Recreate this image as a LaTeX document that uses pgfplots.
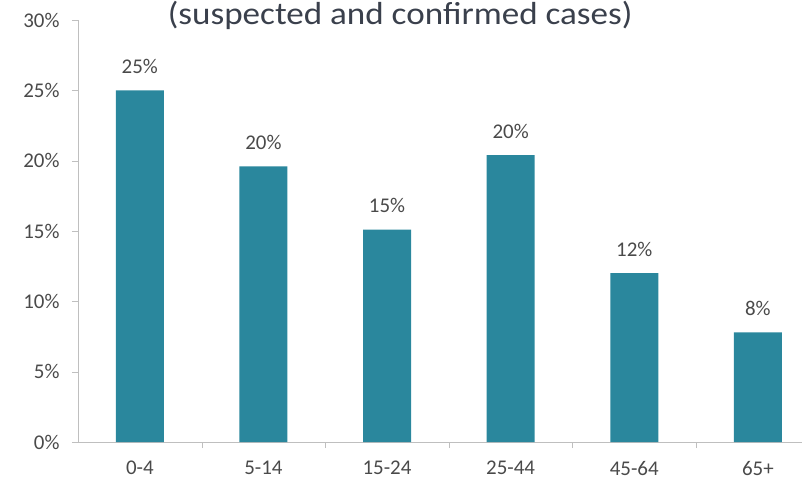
\documentclass[border=0pt]{standalone}
\usepackage{fontspec}
\setmainfont{Carlito}
\usepackage{graphicx}
\usepackage{pgfplots}
\pgfplotsset{compat=1.18}
\definecolor{barteal}{HTML}{2A879D}
\definecolor{axgray}{HTML}{BFBFBF}
\definecolor{txtgray}{HTML}{4A4A4A}
\definecolor{titlegray}{HTML}{3A404C}

\begin{document}
\begin{tikzpicture}
\useasboundingbox (-78bp,-39bp) rectangle (724bp,442bp);
\begin{axis}[
  scale only axis,
  width=724bp, height=422bp,
  ymin=0, ymax=30,
  xmin=-0.5, xmax=5.357,
  ybar, bar width=48bp,
  axis x line*=bottom, axis y line*=left,
  axis line style={axgray},
  tick align=outside,
  major tick length=6bp, minor tick length=6bp,
  ytick={0,5,...,30},
  yticklabel={\pgfmathprintnumber{\tick}\%},
  /pgf/number format/assume math mode=true,
  major y tick style={axgray},
  yticklabel style={xshift=-9bp},
  xtick={0,...,5},
  xticklabels={0-4,5-14,15-24,25-44,45-64,65+},
  xticklabel style={yshift=-13bp, inner sep=0pt, text depth=0pt},
  major x tick style={draw=none},
  minor xtick={0.5,1.5,2.5,3.5,4.5},
  minor x tick style={axgray},
  ticklabel style={font=\fontsize{21}{25}\selectfont, text=txtgray},
  nodes near coords={\pgfmathprintnumber[fixed,precision=0]{\pgfplotspointmeta}\%},
  nodes near coords style={font=\fontsize{21}{25}\selectfont, text=txtgray, anchor=center, yshift=24bp},
  clip=false,
]
\addplot[fill=barteal, draw=none] coordinates {
(0,25.0) (1,19.6) (2,15.1) (3,20.4) (4,12.0) (5,7.8)
};
\node[anchor=base, font=\fontsize{32}{36}\selectfont, text=titlegray]
  at (rel axis cs:0.445,0.9905) {\scalebox{1.1}[1]{(suspected and confirmed cases)}};
\end{axis}
\end{tikzpicture}
\end{document}
